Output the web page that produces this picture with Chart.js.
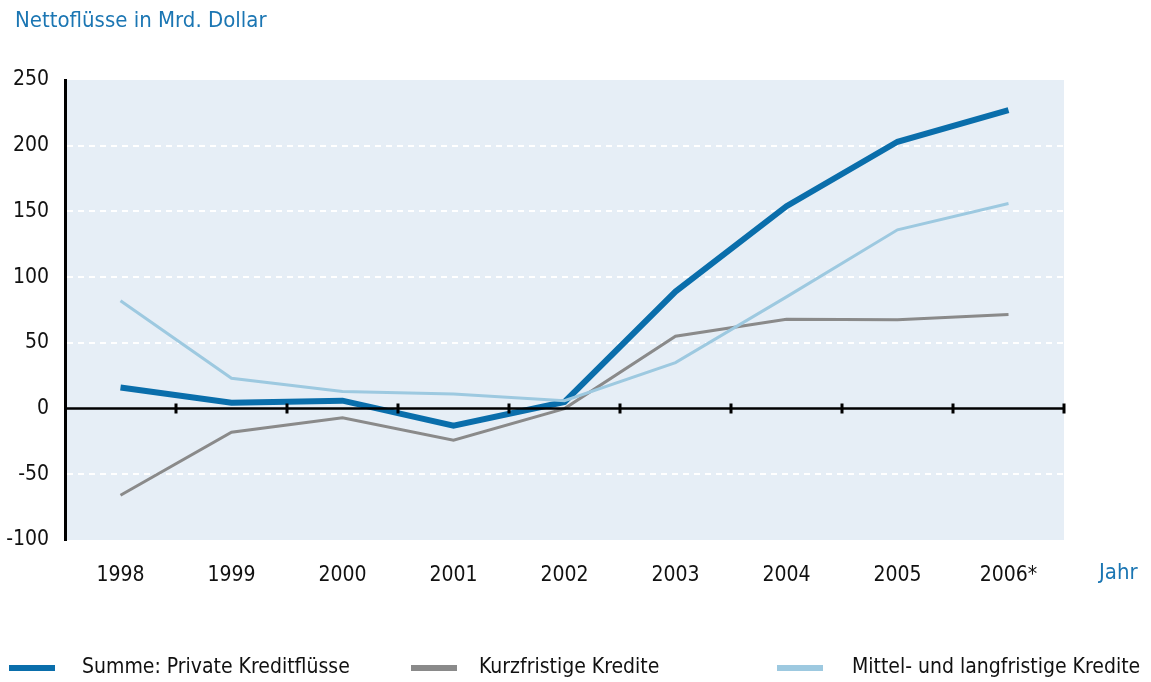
<!DOCTYPE html>
<html>
<head>
<meta charset="utf-8">
<script src="https://cdn.jsdelivr.net/npm/chart.js@4.4.0/dist/chart.umd.min.js"></script>
<style>
  html, body { margin: 0; padding: 0; background: #fff; }
  #wrap { width: 1151px; height: 682px; position: relative; }
</style>
</head>
<body>
<div id="wrap"><canvas id="myChart" width="1151" height="682"></canvas></div>
<script>
const years = ['1998', '1999', '2000', '2001', '2002', '2003', '2004', '2005', '2006*'];
const summe = [16, 4.5, 6, -13, 5, 89, 154, 203, 227];
const kurz = [-66, -18, -7, -24, 0, 55, 68, 67.5, 71.5];
const mittel = [82, 23, 13, 11, 6, 35, 85, 136, 156];
const yTicks = [-100, -50, 0, 50, 100, 150, 200, 250];

const seriesNames = ['Summe: Private Kreditflüsse', 'Kurzfristige Kredite', 'Mittel- und langfristige Kredite'];
const seriesColors = ['#0a6eab', '#8a8a8a', '#9dc9e0'];

const FONT = "'Liberation Sans Narrow', 'DejaVu Sans Condensed', 'Arial Narrow', sans-serif";
const BLUE_TEXT = '#1b76b3';

const ctx = document.getElementById('myChart').getContext('2d');

var decor = {
  id: 'decor',
  beforeDraw: function(chart) {
    var c = chart.ctx, a = chart.chartArea;
    c.save();
    c.fillStyle = '#e6eef6';
    c.fillRect(a.left, a.top, a.right - a.left, a.bottom - a.top);
    c.restore();
  },
  afterDatasetsDraw: function(chart) {
    var c = chart.ctx, a = chart.chartArea;
    var x = chart.scales.x, y = chart.scales.y;
    var y0 = y.getPixelForValue(0);
    c.save();
    c.strokeStyle = '#000';
    c.lineWidth = 2.5;
    c.beginPath();
    c.moveTo(a.left, y0);
    c.lineTo(a.right, y0);
    c.stroke();
    // tick marks between the years
    c.lineWidth = 3;
    c.beginPath();
    var step = x.getPixelForValue(1) - x.getPixelForValue(0);
    for (var i = 0; i < years.length; i++) {
      var bx = x.getPixelForValue(i) + step / 2;
      c.moveTo(bx, y0 - 5);
      c.lineTo(bx, y0 + 5);
    }
    c.stroke();
    c.restore();
  },
  afterDraw: function(chart) {
    var c = chart.ctx;
    c.save();
    c.textBaseline = 'middle';
    c.textAlign = 'left';
    c.fillStyle = BLUE_TEXT;
    c.font = '22px ' + FONT;
    c.fillText('Nettoflüsse in Mrd. Dollar', 15, 21);
    c.fillText('Jahr', 1099, 573);

    // legend
    var lx = [9, 411, 777];
    var tx = [82, 479, 852];
    c.font = '21px ' + FONT;
    for (var i = 0; i < seriesNames.length; i++) {
      c.fillStyle = seriesColors[i];
      c.fillRect(lx[i], 665, 46, 6);
      c.fillStyle = '#111';
      c.fillText(seriesNames[i], tx[i], 668);
    }
    c.restore();
  }
};

var myChart = new Chart(ctx, {
  type: 'line',
  data: {
    labels: years,
    datasets: [
      { label: seriesNames[2], data: mittel, borderColor: seriesColors[2], borderWidth: 3 },
      { label: seriesNames[1], data: kurz, borderColor: seriesColors[1], borderWidth: 3 },
      { label: seriesNames[0], data: summe, borderColor: seriesColors[0], borderWidth: 6 }
    ].map(function(d) {
      d.tension = 0;
      d.pointRadius = 0;
      d.fill = false;
      d.borderJoinStyle = 'miter';
      return d;
    })
  },
  options: {
    responsive: false,
    animation: false,
    layout: { padding: { top: 80, right: 87, bottom: 0, left: 0 } },
    plugins: {
      legend: { display: false },
      tooltip: { enabled: false }
    },
    scales: {
      x: {
        offset: true,
        grid: { display: false },
        border: { display: false },
        ticks: { color: '#111', font: { family: FONT, size: 21 }, padding: 15, maxRotation: 0 },
        afterFit: function(s) { s.height = 142; }
      },
      y: {
        min: -100,
        max: 250,
        afterBuildTicks: function(s) { s.ticks = yTicks.map(function(v) { return { value: v }; }); },
        grid: {
          drawTicks: false,
          lineWidth: 2,
          color: function(c) {
            var v = c.tick.value;
            return (v === 0 || v === -100 || v === 250) ? 'rgba(0,0,0,0)' : '#ffffff';
          }
        },
        border: { display: true, color: '#000', width: 3, dash: [6, 5] },
        ticks: { color: '#111', font: { family: FONT, size: 21 }, padding: 16 },
        afterFit: function(s) { s.width = 65; }
      }
    }
  },
  plugins: [decor]
});
</script>
</body>
</html>
